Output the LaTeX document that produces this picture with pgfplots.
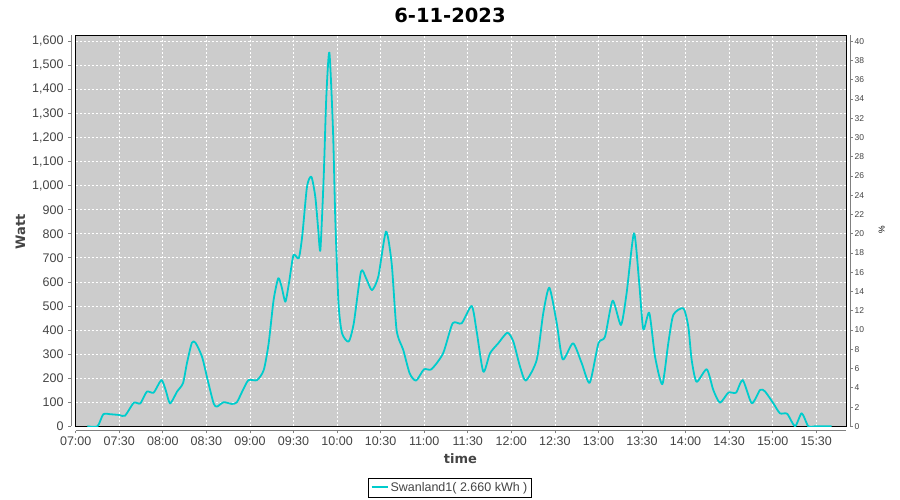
\documentclass[border=0pt]{standalone}
\usepackage{pgfplots}
\pgfplotsset{compat=1.18}
\usepackage{fontspec}
\setmainfont{Liberation Sans}
\newfontfamily\titlefont{DejaVu Sans}
\definecolor{plotbg}{RGB}{204,204,204}
\definecolor{linecyan}{RGB}{0,204,204}
\definecolor{ticktext}{RGB}{68,68,68}
\definecolor{axisgray}{RGB}{128,128,128}

% minutes after 07:00, watt
\pgfplotstableread{
t w
8 0
15 0
19 50
24 50
30 47
34 44
40 98
44.5 95
49 144
53.7 140
59 192
62 150
65 95
69.8 144
73.9 179
76.6 262
80 347
82.5 347
87 289
90.9 192
95 95
97.3 82
101.9 100
107.6 93
111 100
115.2 151
119 192
124.9 192
129.5 234
132.9 345
136.3 525
139.5 615
141.8 580
144.4 518
147 600
150 712
153.6 698
156 790
159.3 996
162.3 1037
165 954
167 820
168.5 733
170.8 1037
172.6 1370
174.7 1553
177.2 1231
178.8 857
181 511
183.4 387
188 352
191.5 428
196.5 643
200 615
204 566
208.4 622
213.7 809
217.6 677
221 400
225.6 317
230 220
234.4 190
239.9 237
245 237
253 303
259.6 428
265.8 428
272.7 500
276 400
280.7 227
285.3 303
291 345
297.3 389
301.4 352
306 248
310 190
317.5 276
322 470
326.2 576
331.3 428
335.4 278
342.5 345
348.5 262
354 181
360 345
364.5 372
369.8 522
375.5 421
379.4 553
384.5 802
388.1 594
390.9 403
395 472
399 289
404 175
408.1 345
411.6 463
418.5 490
421.9 414
424.2 276
427.6 185
434.6 237
439.1 151
443.7 98
449.5 140
454.8 140
459.4 192
465.6 96
471.3 151
474.7 145
480.4 96
485 54
490 52
495.4 0
500 54
504.5 0
509 0
520.6 0
}\powerdata

\begin{document}
\begin{tikzpicture}
\path[use as bounding box] (0,0) rectangle (900pt,500pt);
\begin{axis}[
  at={(75.7pt,73.7pt)}, anchor=south west,
  width=770.3pt, height=391.3pt, scale only axis,
  xmin=0, xmax=530.5, ymin=0, ymax=1626,
  xtick={0,30,...,510},
  xticklabels={07:00,07:30,08:00,08:30,09:00,09:30,10:00,10:30,11:00,11:30,12:00,12:30,13:00,13:30,14:00,14:30,15:00,15:30},
  ytick={0,100,...,1600},
  axis background/.style={fill=plotbg},
  axis line style={black, line width=0.8pt},
  grid=major,
  grid style={white, line width=0.7pt, dash pattern=on 2pt off 2pt},
  tick align=outside, major tick length=2.7pt,
  xtick pos=bottom, ytick pos=left,
  every tick/.style={axisgray, line width=0.7pt},
  xtick style={yshift=-4.4pt}, ytick style={xshift=-4.7pt},
  tick label style={font=\fontsize{12.5}{14}\selectfont, text=ticktext},
  xticklabel style={yshift=-4.7pt},
  yticklabel style={xshift=-6pt},
  /pgf/number format/1000 sep={,},
  /pgf/number format/assume math mode=true,
  legend style={at={(axis description cs:0.4859,-0.1564)}, anchor=center,
    draw=black, fill=white, font=\fontsize{12.5}{14}\selectfont,
    inner sep=2pt},
]
\addplot[linecyan, line width=1.8pt, line join=round, smooth, tension=0.4,
  legend image code/.code={\draw[linecyan, line width=2pt] (0pt,0pt) -- (16pt,0pt);}]
  table[x=t, y=w] {\powerdata};
\addlegendentry{\textcolor{ticktext}{Swanland1( 2.660 kWh )}}
\end{axis}
\begin{axis}[
  at={(75.7pt,73.7pt)}, anchor=south west,
  width=770.3pt, height=391.3pt, scale only axis,
  xmin=0, xmax=530.5, ymin=0, ymax=40.65,
  axis y line*=right, axis x line=none,
  axis line style={black, line width=0.8pt},
  ytick={0,2,...,40},
  tick align=outside, major tick length=2.7pt,
  every tick/.style={axisgray, line width=0.7pt},
  ytick style={xshift=4pt},
  yticklabel style={font=\fontsize{8.5}{10}\selectfont, text=ticktext, xshift=2.3pt},
  /pgf/number format/assume math mode=true,
]
\addplot[draw=none] coordinates {(0,0)};
\end{axis}
\draw[axisgray, line width=0.8pt] (71pt,73.7pt) -- (71pt,465pt);
\draw[axisgray, line width=0.8pt] (75.7pt,69.3pt) -- (846pt,69.3pt);
\draw[axisgray, line width=0.8pt] (850pt,73.7pt) -- (850pt,465pt);
\node[font=\titlefont\bfseries\fontsize{19.5}{22}\selectfont] at (450pt,485pt) {6-11-2023};
\node[rotate=90, font=\titlefont\bfseries\fontsize{13}{15}\selectfont, text=ticktext] at (20.5pt,268.3pt) {Watt};
\node[font=\titlefont\bfseries\fontsize{13}{15}\selectfont, text=ticktext] at (460.5pt,41pt) {time};
\node[rotate=90, font=\fontsize{8.5}{9}\selectfont] at (881.7pt,270pt) {\%};
\end{tikzpicture}
\end{document}
